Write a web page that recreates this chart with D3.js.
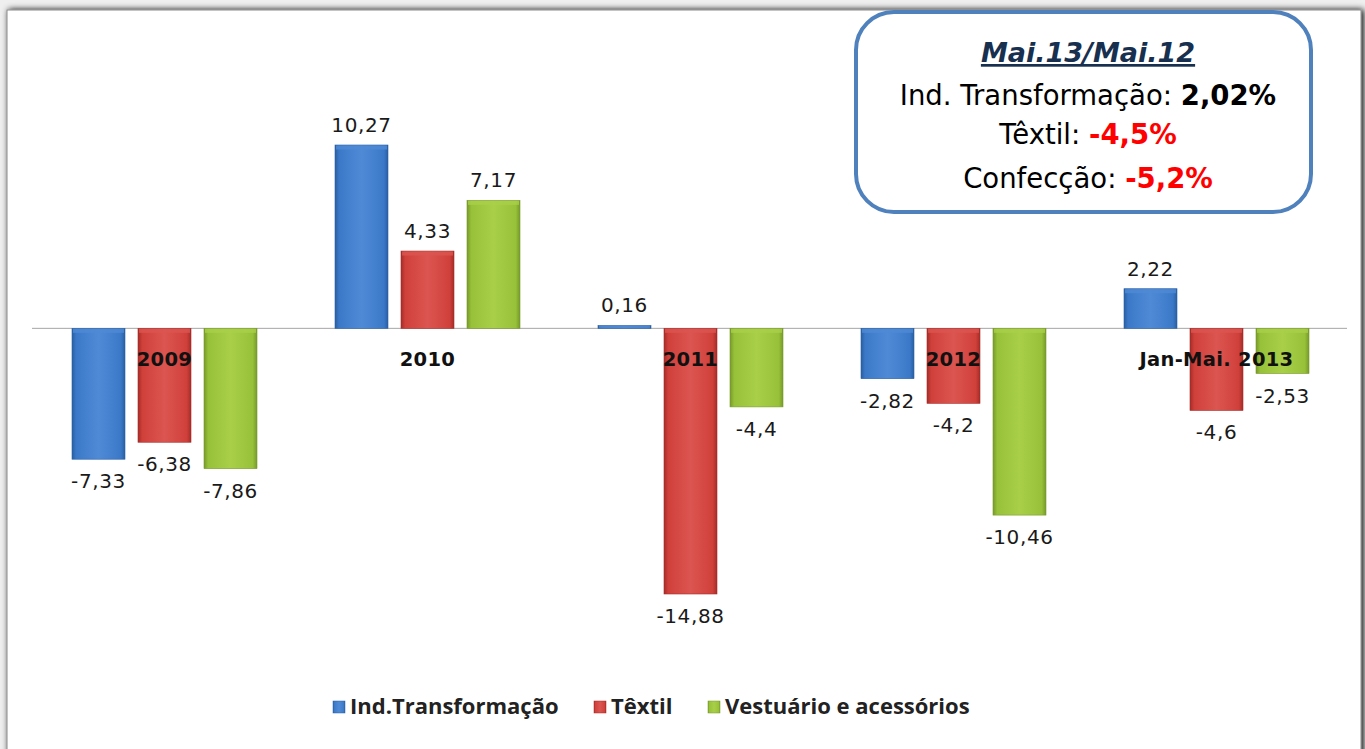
<!DOCTYPE html>
<html>
<head>
<meta charset="utf-8">
<script src="https://cdn.jsdelivr.net/npm/d3@7"></script>
<style>
  body { margin: 0; background: #efefef; }
  svg { display: block; }
</style>
</head>
<body>
<div id="chart"></div>
<script>
const categories = ['2009', '2010', '2011', '2012', 'Jan-Mai. 2013'];
const seriesNames = ['Ind.Transformação', 'Têxtil', 'Vestuário e acessórios'];
const indTransformacao = [-7.33, 10.27, 0.16, -2.82, 2.22];
const textil = [-6.38, 4.33, -14.88, -4.2, -4.6];
const vestuario = [-7.86, 7.17, -4.4, -10.46, -2.53];
const valueLabels = [
  ['-7,33', '10,27', '0,16', '-2,82', '2,22'],
  ['-6,38', '4,33', '-14,88', '-4,2', '-4,6'],
  ['-7,86', '7,17', '-4,4', '-10,46', '-2,53'],
];
const boxTitle = 'Mai.13/Mai.12';
const boxLines = [
  { label: 'Ind. Transformação: ', value: '2,02%', color: '#000' },
  { label: 'Têxtil: ', value: '-4,5%', color: '#ff0000' },
  { label: 'Confecção: ', value: '-5,2%', color: '#ff0000' },
];

const width = 1365;
const height = 749;
const series = [indTransformacao, textil, vestuario];
const colors = [
  { light: '#4f8ad6', base: '#3b79c8', dark: '#2a5fa3' },
  { light: '#dc5550', base: '#d0403b', dark: '#a52c28' },
  { light: '#a9cf48', base: '#98c13a', dark: '#77992a' },
];

const svg = d3.select('#chart').append('svg')
  .attr('width', width)
  .attr('height', height);

const defs = svg.append('defs');
const shadow = defs.append('filter').attr('id', 'shadow')
  .attr('x', '-2%').attr('y', '-2%').attr('width', '104%').attr('height', '104%');
shadow.append('feGaussianBlur').attr('in', 'SourceAlpha').attr('stdDeviation', 3);
shadow.append('feOffset').attr('dx', 2).attr('dy', 0).attr('result', 'b');
const merge = shadow.append('feMerge');
merge.append('feMergeNode').attr('in', 'b');
merge.append('feMergeNode').attr('in', 'SourceGraphic');

colors.forEach((c, i) => {
  const g = defs.append('linearGradient').attr('id', `grad${i}`)
    .attr('x1', 0).attr('x2', 1).attr('y1', 0).attr('y2', 0);
  g.append('stop').attr('offset', '0%').attr('stop-color', c.dark);
  g.append('stop').attr('offset', '8%').attr('stop-color', c.base);
  g.append('stop').attr('offset', '50%').attr('stop-color', c.light);
  g.append('stop').attr('offset', '92%').attr('stop-color', c.base);
  g.append('stop').attr('offset', '100%').attr('stop-color', c.dark);
});

// chart panel
svg.append('rect')
  .attr('x', 7).attr('y', 10)
  .attr('width', 1354).attr('height', 760)
  .attr('fill', '#fff')
  .attr('stroke', '#8a8a8a')
  .attr('stroke-width', 1)
  .attr('filter', 'url(#shadow)');

const x0 = d3.scaleBand()
  .domain(categories)
  .range([33, 1348]);

const x1 = d3.scaleBand()
  .domain([0, 1, 2])
  .range([x0.bandwidth() / 2 - 92.5, x0.bandwidth() / 2 + 92.5])
  .paddingInner(0.197);

const y = d3.scaleLinear()
  .domain([-14.88, 10.27])
  .range([594, 145]);

// zero line
svg.append('line')
  .attr('x1', 32).attr('x2', 1347)
  .attr('y1', y(0)).attr('y2', y(0))
  .attr('stroke', '#a6a6a6')
  .attr('stroke-width', 1);

const groups = svg.selectAll('.group')
  .data(categories)
  .enter().append('g')
  .attr('class', 'group')
  .attr('transform', d => `translate(${x0(d)},0)`);

groups.each(function (cat, ci) {
  const g = d3.select(this);
  series.forEach((s, si) => {
    const v = s[ci];
    const top = Math.min(y(v), y(0));
    const h = Math.max(1.5, Math.abs(y(v) - y(0)));
    const bx = x1(si);
    const bw = x1.bandwidth();
    g.append('rect')
      .attr('x', bx).attr('y', top)
      .attr('width', bw).attr('height', h)
      .attr('fill', `url(#grad${si})`)
      .attr('stroke', colors[si].dark)
      .attr('stroke-width', 0.6);
    // top bevel highlight
    g.append('rect')
      .attr('x', bx + 1).attr('y', top + 0.5)
      .attr('width', bw - 2).attr('height', Math.min(4, h - 1))
      .attr('fill', colors[si].light)
      .attr('opacity', 0.8);
    g.append('text')
      .attr('x', bx + bw / 2)
      .attr('y', v >= 0 ? y(v) - 13 : y(v) + 29)
      .attr('text-anchor', 'middle')
      .style('font-family', '"DejaVu Sans", Verdana, sans-serif')
      .style('font-size', '20px')
      .style('letter-spacing', '0.6px')
      .style('fill', '#1a1a1a')
      .text(valueLabels[si][ci]);
  });
});

// category labels on the zero line
svg.selectAll('.cat')
  .data(categories)
  .enter().append('text')
  .attr('class', 'cat')
  .attr('x', d => x0(d) + x0.bandwidth() / 2)
  .attr('y', y(0) + 38)
  .attr('text-anchor', 'middle')
  .style('font-family', '"DejaVu Sans", Verdana, sans-serif')
  .style('font-weight', 'bold')
  .style('font-size', '19.5px')
  .style('letter-spacing', '0.3px')
  .style('fill', '#111')
  .text(d => d);

// legend
const legendX = [333, 594, 708];
const legend = svg.selectAll('.legend')
  .data(seriesNames)
  .enter().append('g')
  .attr('class', 'legend')
  .attr('transform', (d, i) => `translate(${legendX[i]},701)`);

legend.append('rect')
  .attr('width', 12).attr('height', 12)
  .attr('fill', (d, i) => `url(#grad${i})`)
  .attr('stroke', (d, i) => colors[i].dark)
  .attr('stroke-width', 0.5);

legend.append('text')
  .attr('x', 17).attr('y', 13)
  .style('font-family', '"Open Sans", "Liberation Sans", sans-serif')
  .style('font-weight', 'bold')
  .style('font-size', '22px')
  .style('fill', '#222')
  .text(d => d);

// note box
const box = svg.append('g');
box.append('rect')
  .attr('x', 856).attr('y', 12)
  .attr('width', 455).attr('height', 200)
  .attr('rx', 38).attr('ry', 38)
  .attr('fill', '#fff')
  .attr('stroke', '#4f81bd')
  .attr('stroke-width', 4);

const boxFont = '"Comic Sans MS", "DejaVu Sans", sans-serif';
const cx = 1088;
box.append('text')
  .attr('x', cx).attr('y', 62)
  .attr('text-anchor', 'middle')
  .style('font-family', boxFont)
  .style('font-weight', 'bold')
  .style('font-style', 'italic')
  .style('text-decoration', 'underline')
  .style('font-size', '27px')
  .style('fill', '#17304f')
  .text(boxTitle);

const lineY = [105, 144, 188];
boxLines.forEach((l, i) => {
  const t = box.append('text')
    .attr('x', cx).attr('y', lineY[i])
    .attr('text-anchor', 'middle')
    .style('font-family', boxFont)
    .style('font-size', '27.5px')
    .style('fill', '#000');
  t.append('tspan').text(l.label);
  t.append('tspan')
    .style('font-weight', 'bold')
    .style('fill', l.color)
    .text(l.value);
});
</script>
</body>
</html>
